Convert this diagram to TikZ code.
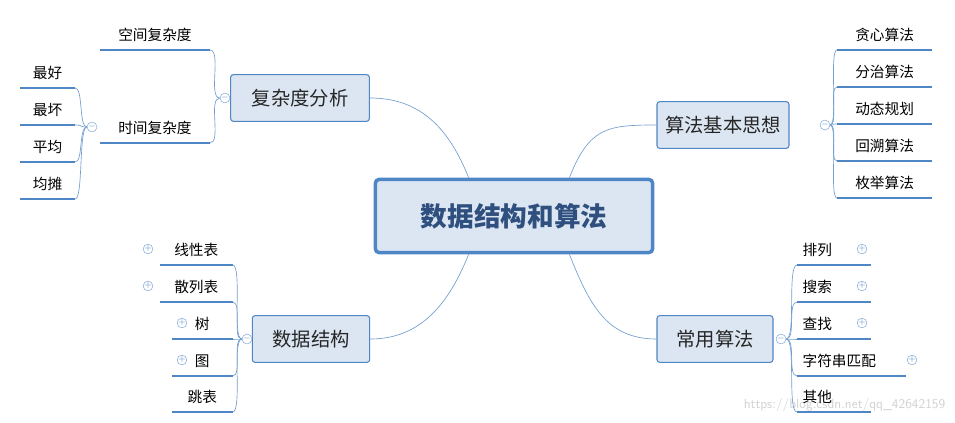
\documentclass[tikz,border=0pt]{standalone}
\usepackage{fontspec}
\setmainfont{Noto Sans CJK SC}
\usetikzlibrary{positioning}
\definecolor{mapblue}{HTML}{4F86C6}
\definecolor{mapfill}{HTML}{DCE6F2}
\definecolor{maptext}{HTML}{2F4F7F}
\tikzset{
    rootbox/.style={draw=mapblue, line width=2.6pt, fill=mapfill, rounded corners=3pt, text=maptext, font=\fontsize{20}{24}\selectfont\bfseries, minimum width=208pt, minimum height=55pt},
    topicbox/.style={draw=mapblue, line width=0.8pt, fill=mapfill, rounded corners=2pt, font=\fontsize{14.5}{17}\selectfont, text=black!85, minimum height=35pt},
    leafline/.style={inner sep=0pt, minimum height=22pt, font=\fontsize{11}{13}\selectfont, append after command={\pgfextra{\draw[draw=mapblue, line width=1.3pt] (\tikzlastnode.south west) -- (\tikzlastnode.south east);}}},
    link/.style={draw=mapblue!80, line width=0.5pt},
    knob/.style={circle, draw=mapblue!70, fill=white, inner sep=0pt, minimum size=6pt, font=\fontsize{6}{6}\selectfont, text=mapblue},
}
\begin{document}
\begin{tikzpicture}[x=0.75pt, y=-0.75pt]
\useasboundingbox (0,0) rectangle (955,423);
\node[text=black!18, font=\fontsize{10}{12}\selectfont\sffamily, anchor=east] (mark) at (950,405) {https://blog.csdn.net/qq\_42642159};
% central topic and branches
\node[rootbox] (root) at (514,216) {数据结构和算法};
\node[topicbox, minimum width=104pt] (cplx) at (300,98) {复杂度分析};
\node[topicbox, minimum width=99pt] (idea) at (723,125) {算法基本思想};
\node[topicbox, minimum width=88pt] (ds) at (311,339) {数据结构};
\node[topicbox, minimum width=87pt] (algo) at (715,339) {常用算法};
\draw[link] (root.north west) ++(95,0) .. controls +(-20,-50) and +(50,0) .. (cplx.east);
\draw[link] (root.north east) ++(-85,0) .. controls +(20,-50) and +(-50,0) .. (idea.west);
\draw[link] (root.south west) ++(95,0) .. controls +(-20,50) and +(50,0) .. (ds.east);
\draw[link] (root.south east) ++(-85,0) .. controls +(20,50) and +(-50,0) .. (algo.west);
% complexity
\node[knob] (kc) at (225,98) {$-$};
\node[leafline, minimum width=82pt, anchor=south west] (space) at (100,50) {空间复杂度};
\node[leafline, minimum width=82pt, anchor=south west] (time) at (100,143) {时间复杂度};
\foreach \n in {space,time}
    \draw[link] (kc.west) .. controls +(-12,0) and +(12,0) .. (\n.south east);
\node[knob] (kt) at (92,127) {$-$};
\foreach \t/\y [count=\i] in {最好/88,最坏/125,平均/162,均摊/199} {
    \node[leafline, minimum width=41pt, anchor=south west] (case\i) at (20,\y) {\t};
    \draw[link] (kt.west) .. controls +(-8,0) and +(8,0) .. (case\i.south east);
}
% basic ideas
\node[knob] (ki) at (825,125) {$-$};
\foreach \t/\y [count=\i] in {贪心算法/50,分治算法/87,动态规划/124,回溯算法/161,枚举算法/198} {
    \node[leafline, minimum width=71pt, anchor=south west] (idea\i) at (837,\y) {\t};
    \draw[link] (ki.east) .. controls +(8,0) and +(-8,0) .. (idea\i.south west);
}
% data structures
\node[knob] (kd) at (247,339) {$-$};
\foreach \t/\x/\y [count=\i] in {线性表/160/265,散列表/160/302,树/172/339,图/172/376,跳表/172/412} {
    \node[leafline, minimum width={(232-\x)*0.75pt}, anchor=south west] (ds\i) at (\x,\y) {\t};
    \draw[link] (kd.west) .. controls +(-10,0) and +(10,0) .. (ds\i.south east);
}
\foreach \x/\y [count=\i] in {148/249,148/286,182/323,182/360}
    \node[knob] (pd\i) at (\x,\y) {$+$};
% common algorithms
\node[knob] (ka) at (781,339) {$-$};
\foreach \t/\w/\y [count=\i] in {排列/73/265,搜索/73/302,查找/73/339,字符串匹配/108/376,其他/73/412} {
    \node[leafline, minimum width={\w*0.75pt}, anchor=south west, align=left, text width={\w*0.75pt-8pt}, inner xsep=4pt] (alg\i) at (797,\y) {\t};
    \draw[link] (ka.east) .. controls +(10,0) and +(-10,0) .. (alg\i.south west);
}
\foreach \x/\y [count=\i] in {862/249,862/286,862/323,912/360}
    \node[knob] (pa\i) at (\x,\y) {$+$};
\end{tikzpicture}
\end{document}
